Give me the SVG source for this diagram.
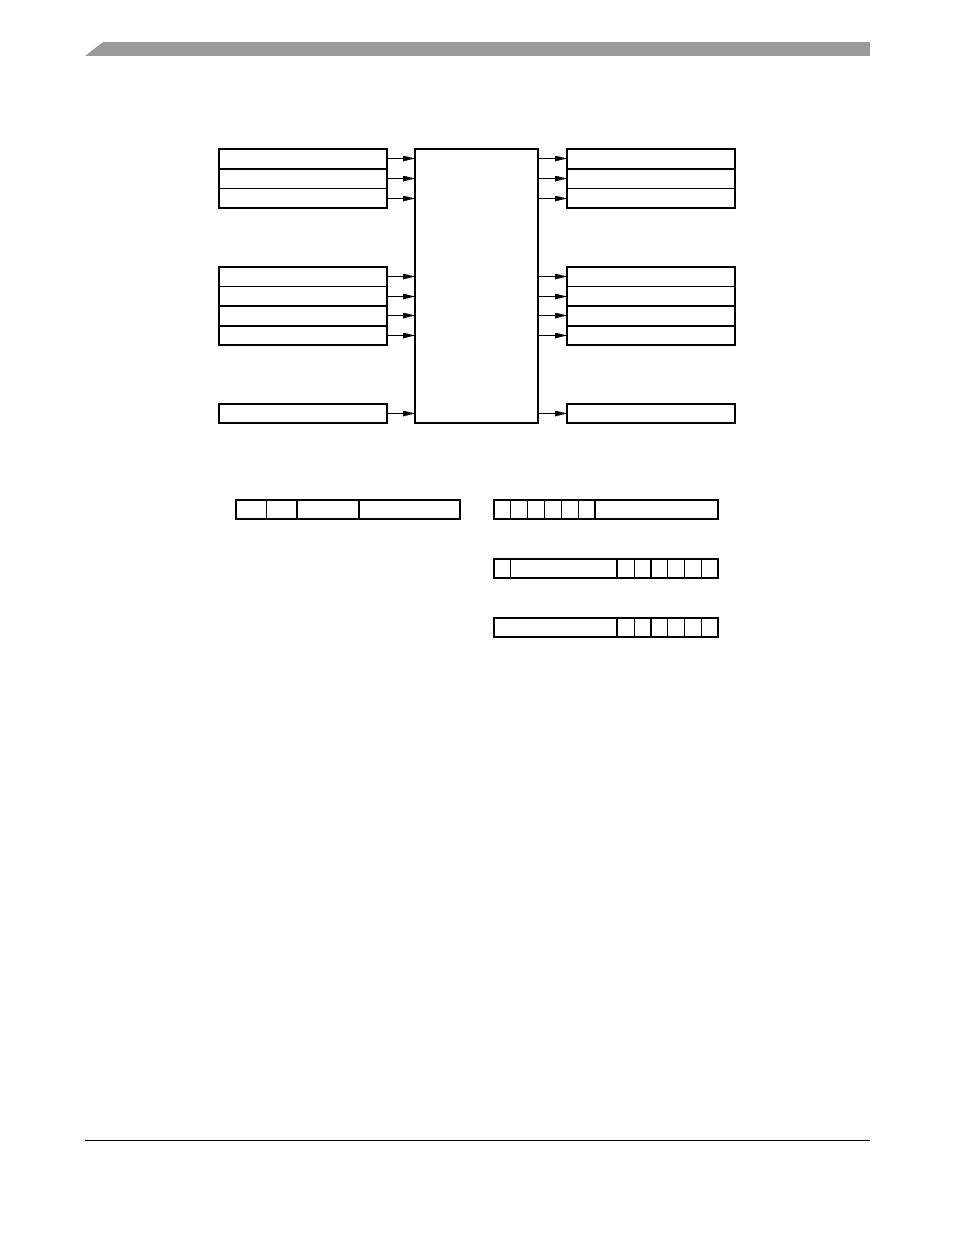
<svg xmlns="http://www.w3.org/2000/svg" width="954" height="1235" viewBox="0 0 954 1235">
<defs>
<marker id="ah" markerWidth="12" markerHeight="6" refX="12" refY="3" orient="auto" markerUnits="userSpaceOnUse">
<path d="M0,0 L12,3 L0,6 Z" fill="#000"/>
</marker>
</defs>
<style>
.b{fill:#fff;stroke:#000;stroke-width:2}
.t{stroke:#000;stroke-width:1;fill:none}
.k{stroke:#000;stroke-width:2;fill:none}
.c{stroke:#000;stroke-width:1;fill:none;marker-end:url(#ah)}
</style>
<rect width="954" height="1235" fill="#fff"/>
<g id="header"><polygon points="85,56 103,42 870,42 870,56" fill="#999"/></g>
<g id="footer"><line x1="85" y1="1140.5" x2="870" y2="1140.5" stroke="#000" stroke-width="1"/></g>

<g id="connectors">
<line class="c" x1="387" y1="158.5" x2="415" y2="158.5"/>
<line class="c" x1="387" y1="178.5" x2="415" y2="178.5"/>
<line class="c" x1="387" y1="198.5" x2="415" y2="198.5"/>
<line class="c" x1="387" y1="276.5" x2="415" y2="276.5"/>
<line class="c" x1="387" y1="296.5" x2="415" y2="296.5"/>
<line class="c" x1="387" y1="315.5" x2="415" y2="315.5"/>
<line class="c" x1="387" y1="335.5" x2="415" y2="335.5"/>
<line class="c" x1="387" y1="413.5" x2="415" y2="413.5"/>
<line class="c" x1="538" y1="158.5" x2="567" y2="158.5"/>
<line class="c" x1="538" y1="178.5" x2="567" y2="178.5"/>
<line class="c" x1="538" y1="198.5" x2="567" y2="198.5"/>
<line class="c" x1="538" y1="276.5" x2="567" y2="276.5"/>
<line class="c" x1="538" y1="296.5" x2="567" y2="296.5"/>
<line class="c" x1="538" y1="315.5" x2="567" y2="315.5"/>
<line class="c" x1="538" y1="335.5" x2="567" y2="335.5"/>
<line class="c" x1="538" y1="413.5" x2="567" y2="413.5"/>
</g>

<g id="left-group1">
<rect class="b" x="219" y="149" width="168" height="59"/>
<line class="k" x1="219" y1="169" x2="387" y2="169"/>
<line class="t" x1="219" y1="188.5" x2="387" y2="188.5"/>
</g>
<g id="left-group2">
<rect class="b" x="219" y="267" width="168" height="78"/>
<line class="t" x1="219" y1="286.5" x2="387" y2="286.5"/>
<line class="k" x1="219" y1="306" x2="387" y2="306"/>
<line class="k" x1="219" y1="326" x2="387" y2="326"/>
</g>
<g id="left-box3"><rect class="b" x="219" y="404" width="168" height="19"/></g>

<g id="center"><rect class="b" x="415" y="149" width="123" height="274"/></g>

<g id="right-group1">
<rect class="b" x="567" y="149" width="168" height="59"/>
<line class="k" x1="567" y1="169" x2="735" y2="169"/>
<line class="t" x1="567" y1="188.5" x2="735" y2="188.5"/>
</g>
<g id="right-group2">
<rect class="b" x="567" y="267" width="168" height="78"/>
<line class="t" x1="567" y1="286.5" x2="735" y2="286.5"/>
<line class="k" x1="567" y1="306" x2="735" y2="306"/>
<line class="k" x1="567" y1="326" x2="735" y2="326"/>
</g>
<g id="right-box3"><rect class="b" x="567" y="404" width="168" height="19"/></g>

<g id="reg-left">
<rect class="b" x="236" y="500" width="224" height="19"/>
<line class="t" x1="266.5" y1="500" x2="266.5" y2="519"/>
<line class="k" x1="297" y1="500" x2="297" y2="519"/>
<line class="k" x1="359" y1="500" x2="359" y2="519"/>
</g>
<g id="reg-right1">
<rect class="b" x="494" y="500" width="224" height="19"/>
<line class="t" x1="510.5" y1="500" x2="510.5" y2="519"/>
<line class="t" x1="527.5" y1="500" x2="527.5" y2="519"/>
<line class="t" x1="544.5" y1="500" x2="544.5" y2="519"/>
<line class="t" x1="561.5" y1="500" x2="561.5" y2="519"/>
<line class="t" x1="578.5" y1="500" x2="578.5" y2="519"/>
<line class="k" x1="595" y1="500" x2="595" y2="519"/>
</g>
<g id="reg-right2">
<rect class="b" x="494" y="559" width="224" height="19"/>
<line class="t" x1="510.5" y1="559" x2="510.5" y2="578"/>
<line class="k" x1="617" y1="559" x2="617" y2="578"/>
<line class="t" x1="634.5" y1="559" x2="634.5" y2="578"/>
<line class="k" x1="651" y1="559" x2="651" y2="578"/>
<line class="t" x1="667.5" y1="559" x2="667.5" y2="578"/>
<line class="t" x1="684.5" y1="559" x2="684.5" y2="578"/>
<line class="t" x1="701.5" y1="559" x2="701.5" y2="578"/>
</g>
<g id="reg-right3">
<rect class="b" x="494" y="618" width="224" height="19"/>
<line class="k" x1="617" y1="618" x2="617" y2="637"/>
<line class="t" x1="634.5" y1="618" x2="634.5" y2="637"/>
<line class="k" x1="651" y1="618" x2="651" y2="637"/>
<line class="t" x1="667.5" y1="618" x2="667.5" y2="637"/>
<line class="t" x1="684.5" y1="618" x2="684.5" y2="637"/>
<line class="t" x1="701.5" y1="618" x2="701.5" y2="637"/>
</g>
</svg>
